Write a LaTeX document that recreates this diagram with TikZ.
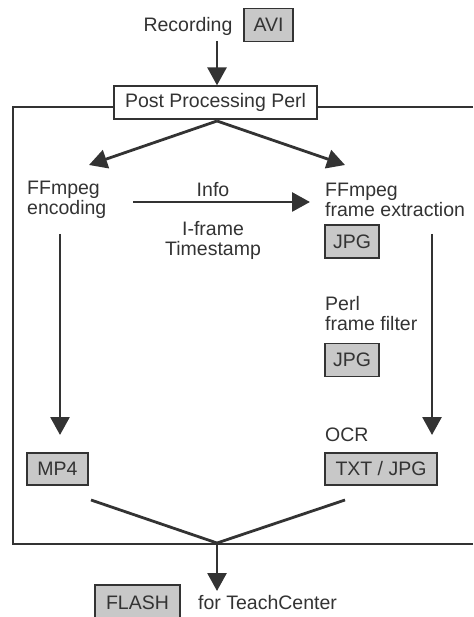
\documentclass[tikz,border=0pt]{standalone}
\usepackage{fontspec}
\setmainfont{Liberation Sans}
\usetikzlibrary{arrows.meta}
\definecolor{ink}{HTML}{333333}
\definecolor{boxfill}{HTML}{C8C8C8}
\begin{document}
\begin{tikzpicture}[x=1pt,y=-1pt,
  every node/.style={text=ink,font=\fontsize{19.5}{20}\selectfont,inner sep=0pt},
  filebox/.style={draw=ink,line width=1.3pt,fill=boxfill,minimum height=33pt},
  txtl/.style={align=left,anchor=west},
  arr/.style={draw=ink,line width=2.8pt,-{Triangle[width=19pt,length=18pt]}},
  plain/.style={draw=ink,line width=2.8pt},
  frameline/.style={draw=ink,line width=1.8pt}]
\useasboundingbox (0,0) rectangle (473,617);
\clip (0,0) rectangle (473,617);
% frame
\coordinate (ftl) at (13,107);
\coordinate (fbl) at (13,544);
\coordinate (fbr) at (473,544);
\coordinate (ftr) at (473,107);
\draw[frameline] (ftr) -- (ftl) -- (fbl) -- (fbr);
% top
\node (rec) at (188,26) {Recording};
\node[filebox,minimum width=49pt] (avi) at (268.5,25) {AVI};
\node[draw=ink,line width=1.3pt,fill=white,minimum width=203pt,minimum height=33pt] (ppp) at (215.5,102.5) {Post Processing Perl};
\coordinate (src) at (217,41);
\draw[arr] (src) -- (src |- ppp.north);
% split
\coordinate (split) at (217,121);
\coordinate (tl) at (89,165);
\coordinate (tr) at (345,165);
\draw[arr] (split) -- (tl);
\draw[arr] (split) -- (tr);
% columns
\node[txtl] (enc) at (27,200) {FFmpeg\\encoding};
\node[txtl] (ext) at (325,200) {FFmpeg\\frame extraction};
\coordinate (ia) at (133,202);
\coordinate (ib) at (310,202);
\draw[arr] (ia) -- (ib);
\node (info) at (213,190) {Info};
\node[align=center] (ifr) at (213,240) {I-frame\\Timestamp};
\node[filebox,minimum width=54pt] (jpg1) at (352,241.5) {JPG};
\coordinate (la) at (60,234);
\coordinate (lb) at (60,435);
\coordinate (ra) at (432,234);
\coordinate (rb) at (432,435);
\draw[arr] (la) -- (lb);
\draw[arr] (ra) -- (rb);
\node[txtl] (filt) at (325,314) {Perl\\frame filter};
\node[filebox,minimum width=54pt] (jpg2) at (352,360) {JPG};
\node[txtl] (ocr) at (325,435) {OCR};
\node[filebox,minimum width=61pt,minimum height=32pt] (mp4) at (57.5,469) {MP4};
\node[filebox,minimum width=112pt,minimum height=32pt] (txt) at (381,469) {TXT / JPG};
% merge
\coordinate (ma) at (91,500);
\coordinate (mb) at (345,500);
\coordinate (mj) at (217,543);
\coordinate (mt) at (217,591);
\draw[plain,line join=miter] (ma) -- (mj) -- (mb);
\draw[arr] (mj) -- (mt);
\node[filebox,minimum width=85pt,minimum height=35pt] (flash) at (137.5,602.5) {FLASH};
\node[anchor=west] (tc) at (198,603) {for TeachCenter};
\end{tikzpicture}
\end{document}
